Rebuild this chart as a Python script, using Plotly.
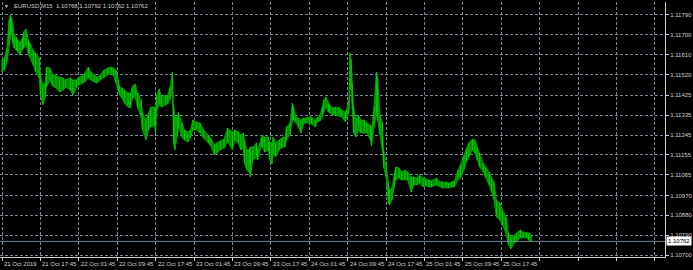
import plotly.graph_objects as go

# M15 bar index counted from the first visible bar (21 Oct 2019 09:45)
bar_index = [0, 2, 4, 6, 7, 8, 9, 10, 12, 13,
             15, 17, 18, 20, 22, 23, 26, 28, 31, 32,
             34, 36, 37, 40, 42, 45, 48, 51, 53, 57,
             59, 62, 64, 67, 69, 72, 74, 77, 79, 82,
             85, 88, 91, 93, 95, 97, 98, 100, 102, 105,
             107, 109, 111, 113, 116, 117, 120, 122, 124, 127,
             128, 129, 131, 133, 136, 138, 140, 142, 143, 144,
             146, 147, 150, 152, 155, 157, 159, 162, 165, 168,
             172, 174, 177, 179, 182, 185, 188, 192, 194, 197,
             199, 201, 202, 204, 206, 207, 209, 212, 213, 216,
             217, 219, 222, 223, 225, 226, 228, 231, 233, 236,
             237, 240, 242, 243, 245, 247, 249, 251, 253, 256,
             258, 261, 263, 265, 267, 268, 270, 272, 273, 276,
             278, 281, 283, 286, 287, 289, 290, 291, 292, 293,
             295, 297, 299, 302, 304, 307, 308, 310, 312, 313,
             315, 317, 318, 320, 322, 323, 325, 327, 328, 331,
             333, 336, 338, 341, 343, 346, 348, 351, 353, 356,
             358, 362, 365, 367, 370, 372, 375, 377, 380, 382,
             385, 387, 389, 392, 394, 396, 398, 401, 403, 406,
             408, 410, 412, 415, 417, 420, 422, 424, 427, 429,
             432, 434, 437, 439, 441]

high = [1.11586, 1.11595, 1.11640, 1.11767, 1.11790, 1.11776, 1.11745, 1.11699, 1.11690, 1.11676,
        1.11667, 1.11686, 1.11713, 1.11726, 1.11676, 1.11663, 1.11631, 1.11617, 1.11595, 1.11518,
        1.11472, 1.11481, 1.11554, 1.11549, 1.11522, 1.11513, 1.11508, 1.11504, 1.11495, 1.11504,
        1.11495, 1.11495, 1.11508, 1.11513, 1.11527, 1.11554, 1.11531, 1.11518, 1.11508, 1.11518,
        1.11540, 1.11549, 1.11554, 1.11549, 1.11540, 1.11495, 1.11463, 1.11459, 1.11449, 1.11436,
        1.11436, 1.11468, 1.11477, 1.11436, 1.11404, 1.11345, 1.11313, 1.11345, 1.11372, 1.11372,
        1.11359, 1.11427, 1.11454, 1.11418, 1.11427, 1.11422, 1.11463, 1.11531, 1.11381, 1.11327,
        1.11327, 1.11349, 1.11300, 1.11268, 1.11259, 1.11268, 1.11313, 1.11304, 1.11300, 1.11268,
        1.11245, 1.11231, 1.11200, 1.11209, 1.11218, 1.11227, 1.11277, 1.11259, 1.11268, 1.11259,
        1.11245, 1.11254, 1.11222, 1.11177, 1.11177, 1.11191, 1.11191, 1.11209, 1.11177, 1.11231,
        1.11245, 1.11236, 1.11236, 1.11209, 1.11209, 1.11236, 1.11209, 1.11222, 1.11231, 1.11236,
        1.11281, 1.11300, 1.11390, 1.11372, 1.11327, 1.11322, 1.11313, 1.11322, 1.11322, 1.11327,
        1.11327, 1.11313, 1.11327, 1.11336, 1.11372, 1.11404, 1.11418, 1.11390, 1.11381, 1.11368,
        1.11372, 1.11368, 1.11359, 1.11349, 1.11359, 1.11404, 1.11617, 1.11586, 1.11472, 1.11372,
        1.11313, 1.11336, 1.11313, 1.11313, 1.11300, 1.11290, 1.11277, 1.11372, 1.11531, 1.11508,
        1.11336, 1.11300, 1.11177, 1.11118, 1.11027, 1.10995, 1.11005, 1.11073, 1.11100, 1.11095,
        1.11077, 1.11086, 1.11077, 1.11054, 1.11054, 1.11050, 1.11064, 1.11050, 1.11045, 1.11041,
        1.11036, 1.11050, 1.11032, 1.11032, 1.11032, 1.11027, 1.11032, 1.11036, 1.11086, 1.11109,
        1.11154, 1.11186, 1.11209, 1.11227, 1.11222, 1.11191, 1.11163, 1.11118, 1.11100, 1.11077,
        1.11050, 1.11032, 1.10950, 1.10936, 1.10905, 1.10873, 1.10800, 1.10782, 1.10791, 1.10800,
        1.10814, 1.10805, 1.10800, 1.10800, 1.10792]

low = [1.11531, 1.11540, 1.11577, 1.11654, 1.11699, 1.11722, 1.11663, 1.11640, 1.11631, 1.11622,
       1.11608, 1.11631, 1.11640, 1.11654, 1.11617, 1.11599, 1.11563, 1.11531, 1.11504, 1.11427,
       1.11381, 1.11418, 1.11463, 1.11495, 1.11468, 1.11459, 1.11440, 1.11449, 1.11463, 1.11449,
       1.11427, 1.11459, 1.11472, 1.11481, 1.11486, 1.11504, 1.11495, 1.11486, 1.11481, 1.11495,
       1.11508, 1.11518, 1.11527, 1.11513, 1.11481, 1.11440, 1.11427, 1.11413, 1.11390, 1.11372,
       1.11368, 1.11413, 1.11422, 1.11368, 1.11327, 1.11268, 1.11222, 1.11268, 1.11281, 1.11290,
       1.11254, 1.11359, 1.11381, 1.11372, 1.11381, 1.11386, 1.11404, 1.11449, 1.11209, 1.11177,
       1.11236, 1.11281, 1.11236, 1.11222, 1.11213, 1.11231, 1.11268, 1.11268, 1.11254, 1.11231,
       1.11209, 1.11195, 1.11154, 1.11163, 1.11177, 1.11186, 1.11213, 1.11177, 1.11222, 1.11209,
       1.11177, 1.11186, 1.11118, 1.11086, 1.11077, 1.11054, 1.11132, 1.11145, 1.11132, 1.11191,
       1.11191, 1.11168, 1.11177, 1.11132, 1.11113, 1.11163, 1.11145, 1.11177, 1.11186, 1.11191,
       1.11222, 1.11245, 1.11313, 1.11313, 1.11300, 1.11281, 1.11254, 1.11290, 1.11300, 1.11300,
       1.11295, 1.11281, 1.11304, 1.11309, 1.11327, 1.11349, 1.11372, 1.11349, 1.11345, 1.11336,
       1.11336, 1.11331, 1.11327, 1.11304, 1.11322, 1.11345, 1.11463, 1.11449, 1.11359, 1.11254,
       1.11236, 1.11268, 1.11254, 1.11254, 1.11254, 1.11222, 1.11195, 1.11281, 1.11345, 1.11313,
       1.11245, 1.11177, 1.11100, 1.11054, 1.10936, 1.10927, 1.10950, 1.11009, 1.11041, 1.11050,
       1.11041, 1.11041, 1.11041, 1.10986, 1.11018, 1.11018, 1.11027, 1.11009, 1.11014, 1.11009,
       1.11009, 1.11018, 1.11009, 1.11005, 1.11005, 1.11005, 1.11009, 1.11009, 1.11041, 1.11050,
       1.11086, 1.11123, 1.11145, 1.11177, 1.11163, 1.11132, 1.11100, 1.11077, 1.11054, 1.11018,
       1.10986, 1.10950, 1.10873, 1.10859, 1.10837, 1.10800, 1.10746, 1.10728, 1.10755, 1.10764,
       1.10778, 1.10778, 1.10778, 1.10768, 1.10762]

x_tick_bars = [0, 32, 64, 96, 128, 160, 192, 224, 256, 288, 320, 352, 384, 416, 448, 480, 512, 544]
x_tick_labels = ["21 Oct 2019", "21 Oct 17:45", "22 Oct 01:45", "22 Oct 09:45", "22 Oct 17:45",
                 "23 Oct 01:45", "23 Oct 09:45", "23 Oct 17:45", "24 Oct 01:45", "24 Oct 09:45",
                 "24 Oct 17:45", "25 Oct 01:45", "25 Oct 09:45", "25 Oct 17:45"]
y_ticks = [1.11790, 1.11700, 1.11610, 1.11520, 1.11425, 1.11335, 1.11245,
           1.11155, 1.11065, 1.10970, 1.10880, 1.10790, 1.10700]
bid_price = 1.10762
header_text = "EURUSD,M15  1.10768 1.10792 1.10762 1.10762"

FONT = "Liberation Sans"
GREEN = "#00b400"
GRID = "#778899"
FG = "#d0d0d0"

fig = go.Figure()
fig.add_trace(go.Scatter(x=bar_index, y=high, mode="lines",
                         line=dict(color=GREEN, width=0.8), hoverinfo="skip", showlegend=False))
fig.add_trace(go.Scatter(x=bar_index, y=low, mode="lines", fill="tonexty", fillcolor="#008a00",
                         line=dict(color=GREEN, width=0.8), hoverinfo="skip", showlegend=False))

# vertical high-low strokes at each sampled bar
seg_x, seg_y = [], []
for b, h, l in zip(bar_index, high, low):
    seg_x += [b, b, None]
    seg_y += [l, h, None]
fig.add_trace(go.Scatter(x=seg_x, y=seg_y, mode="lines", line=dict(color="#00cc00", width=1),
                         hoverinfo="skip", showlegend=False))

# bid line
fig.add_shape(type="line", xref="paper", x0=0, x1=1, yref="y", y0=bid_price, y1=bid_price,
              line=dict(color=GRID, width=1))

annotations = []
for b, lab in zip(x_tick_bars, x_tick_labels):
    annotations.append(dict(x=b, xref="x", y=0, yref="paper", yanchor="top", xanchor="left",
                            text=lab, showarrow=False, yshift=-2, xshift=0,
                            font=dict(family=FONT, size=6, color=FG)))
annotations.append(dict(x=1, xref="paper", y=bid_price, yref="y", xanchor="left", yanchor="middle",
                        text=f"{bid_price:.5f}", showarrow=False, xshift=1, bgcolor="#ffffff",
                        borderpad=1, font=dict(family=FONT, size=6, color="#000000")))
annotations.append(dict(x=12 / 665, xref="paper", y=(257 - 6) / 255, yref="paper", xanchor="left",
                        yanchor="middle", text=header_text, showarrow=False,
                        font=dict(family=FONT, size=6, color=FG)))
annotations.append(dict(x=2 / 665, xref="paper", y=(257 - 6) / 255, yref="paper", xanchor="left",
                        yanchor="middle", text="▼", showarrow=False,
                        font=dict(family=FONT, size=5, color=FG)))

fig.update_layout(
    width=693, height=270,
    margin=dict(l=0, r=28, t=2, b=13),
    paper_bgcolor="#000000", plot_bgcolor="#000000",
    font=dict(family=FONT, size=6, color=FG),
    annotations=annotations,
    xaxis=dict(range=[-1.67, 552.5], tickvals=x_tick_bars, showticklabels=False,
               showgrid=True, gridcolor=GRID, gridwidth=1, griddash="3px,2px",
               showline=True, linecolor=FG, linewidth=1, ticks="outside", ticklen=3,
               tickcolor=FG, zeroline=False, fixedrange=True),
    yaxis=dict(range=[1.10691, 1.11849], side="right", tickvals=y_ticks,
               ticktext=[f"{v:.5f}" for v in y_ticks],
               tickfont=dict(family=FONT, size=6, color=FG),
               showgrid=True, gridcolor=GRID, gridwidth=1, griddash="3px,2px",
               showline=True, linecolor=FG, linewidth=1, ticks="outside", ticklen=3,
               tickcolor=FG, zeroline=False, fixedrange=True),
)

fig.write_html("out.html")
